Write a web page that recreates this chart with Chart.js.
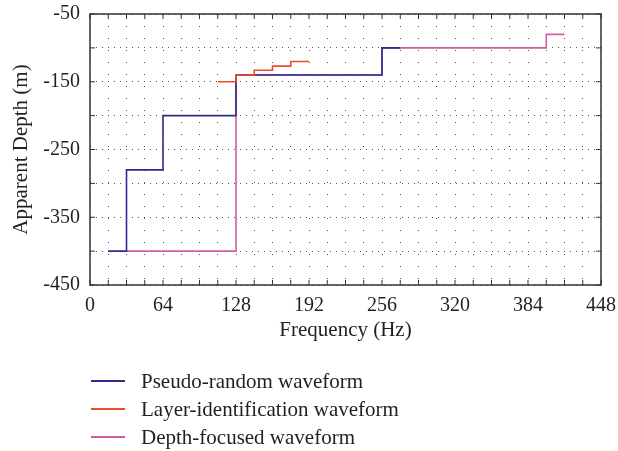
<!DOCTYPE html>
<html>
<head>
<meta charset="utf-8">
<script src="https://cdn.jsdelivr.net/npm/chart.js@4/dist/chart.umd.min.js"></script>
<style>
  html, body { margin: 0; padding: 0; background: #fff; }
  #wrap { position: relative; width: 618px; height: 451px; }
  #legend { position: absolute; left: 91px; top: 367px; font-family: 'Liberation Serif', serif; font-size: 21px; color: #231f20; }
  .row { display: flex; align-items: center; height: 28px; }
  .swatch { width: 34px; height: 1.6px; margin-right: 16px; }
</style>
</head>
<body>
<div id="wrap">
  <canvas id="chart" width="618" height="451"></canvas>
  <div id="legend"></div>
</div>
<script>
// step curves: frequency (Hz) where each level starts, and the apparent depth (m)
const pseudoFreq = [16, 32, 64, 128, 256, 272];
const pseudoDepth = [-400, -280, -200, -140, -100, -100];

const layerFreq = [112, 128, 144, 160, 176, 192];
const layerDepth = [-150, -140, -133, -127, -120, -120];

const depthFreq = [32, 128, 256, 400, 416];
const depthDepth = [-400, -140, -100, -80, -80];

const seriesNames = ['Pseudo-random waveform', 'Layer-identification waveform', 'Depth-focused waveform'];
const seriesColors = ['#2e2a8e', '#f24b2b', '#d35ca8'];

const xTickLabels = [0, 64, 128, 192, 256, 320, 384, 448];
const yTickLabels = [-50, -150, -250, -350, -450];

const pts = (xs, ys) => xs.map((x, i) => ({ x: x, y: ys[i] }));

const font = { family: "'Liberation Serif', serif", size: 20 };
const titleFont = { family: "'Liberation Serif', serif", size: 21 };
const ink = '#231f20';

// frame with inward tick marks, matlab style
const framePlugin = {
  id: 'frame',
  afterDraw(chart) {
    const { ctx, chartArea: a, scales } = chart;
    ctx.save();
    ctx.strokeStyle = '#333';
    ctx.lineWidth = 1.5;
    ctx.strokeRect(a.left, a.top, a.right - a.left, a.bottom - a.top);
    ctx.lineWidth = 1;
    ctx.beginPath();
    scales.x.ticks.forEach(t => {
      const px = scales.x.getPixelForValue(t.value);
      ctx.moveTo(px, a.bottom); ctx.lineTo(px, a.bottom - 5);
      ctx.moveTo(px, a.top); ctx.lineTo(px, a.top + 5);
    });
    scales.y.ticks.forEach(t => {
      const py = scales.y.getPixelForValue(t.value);
      ctx.moveTo(a.left, py); ctx.lineTo(a.left + 5, py);
      ctx.moveTo(a.right, py); ctx.lineTo(a.right - 5, py);
    });
    ctx.stroke();
    ctx.restore();
  }
};

// red drawn on top, then blue, pink underneath
const datasets = [
  { data: pts(pseudoFreq, pseudoDepth), order: 1 },
  { data: pts(layerFreq, layerDepth), order: 0 },
  { data: pts(depthFreq, depthDepth), order: 2 }
].map((d, i) => Object.assign(d, {
  label: seriesNames[i],
  borderColor: seriesColors[i],
  backgroundColor: seriesColors[i],
  borderWidth: 1.6,
  pointRadius: 0,
  stepped: true,
  fill: false
}));

new Chart(document.getElementById('chart'), {
  type: 'line',
  data: { datasets: datasets },
  options: {
    responsive: false,
    animation: false,
    layout: { padding: { left: 6, right: 17, top: 14, bottom: 106 } },
    plugins: { legend: { display: false }, tooltip: { enabled: false } },
    scales: {
      x: {
        type: 'linear',
        min: 0,
        max: 448,
        afterFit: s => { s.height = 60; s.paddingLeft = 0; s.paddingRight = 0; },
        border: { display: false, dash: [1, 11] },
        grid: { color: '#555', lineWidth: 1, drawTicks: false },
        ticks: {
          stepSize: 16,
          autoSkip: false,
          maxRotation: 0,
          padding: 9,
          color: ink,
          font: font,
          callback: v => xTickLabels.includes(v) ? String(v) : ''
        },
        title: { display: true, text: 'Frequency (Hz)', color: ink, font: titleFont, padding: { top: 0, bottom: 2 } }
      },
      y: {
        min: -450,
        max: -50,
        afterFit: s => { s.width = 84; s.paddingTop = 0; s.paddingBottom = 0; },
        border: { display: false, dash: [1, 5] },
        grid: { color: '#555', lineWidth: 1, drawTicks: false },
        ticks: {
          stepSize: 50,
          autoSkip: false,
          padding: 10,
          color: ink,
          font: font,
          callback: v => yTickLabels.includes(v) ? String(v) : ''
        },
        title: { display: true, text: 'Apparent Depth (m)', color: ink, font: titleFont, padding: { top: 3, bottom: 0 } }
      }
    }
  },
  plugins: [framePlugin]
});

// legend, stacked vertically under the plot
const legend = document.getElementById('legend');
seriesNames.forEach((name, i) => {
  const row = document.createElement('div');
  row.className = 'row';
  row.innerHTML = '<span class="swatch" style="background:' + seriesColors[i] + '"></span><span>' + name + '</span>';
  legend.appendChild(row);
});
</script>
</body>
</html>
